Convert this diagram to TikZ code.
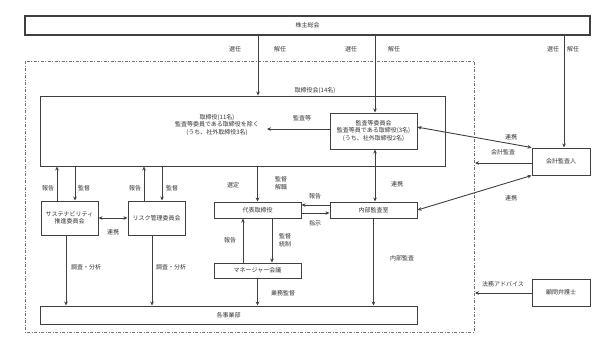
\documentclass[tikz,border=0pt]{standalone}
\usepackage{fontspec}
\setmainfont{Noto Sans CJK JP}
\usetikzlibrary{arrows.meta,calc}
\begin{document}
\begin{tikzpicture}[x=1pt,y=-1pt,
  font=\fontsize{6}{7.5}\selectfont,
  every node/.style={text=black!80, inner sep=0pt},
  box/.style={draw=black!75, line width=1pt, rectangle, align=center},
  lbl/.style={align=center},
  arr/.style={draw=black!75, line width=0.9pt, -{Stealth[length=4pt,width=3.6pt]}},
  darr/.style={draw=black!75, line width=0.9pt, {Stealth[length=4pt,width=3.6pt]}-{Stealth[length=4pt,width=3.6pt]}},
  border/.style={draw=black!55, line width=0.7pt, dash pattern=on 3pt off 1.5pt on 1pt off 1.5pt}
]
\useasboundingbox (0,0) rectangle (610,346);

% group border
\draw[border] (25,61) rectangle (474,332);

% boxes
\node[box, minimum width=565pt, minimum height=19pt, line width=1.2pt] (kabu) at (307.5,25.5) {株主総会};
\node[box, minimum width=405pt, minimum height=70pt, line width=0.9pt] (board) at (242.5,131) {};
\node[lbl, anchor=south] (boardlbl) at (315,94) {取締役会(14名)};
\node[lbl] (dirtext) at (217,125) {取締役(11名)\\監査等委員である取締役を除く\\(うち、社外取締役3名)};
\node[box, minimum width=87pt, minimum height=36pt] (audit) at (373.5,131) {監査等委員会\\監査等員である取締役(3名)\\(うち、社外取締役2名)};
\node[box, minimum width=58pt, minimum height=27pt] (kaikei) at (561,161.5) {会計監査人};
\node[box, minimum width=87pt, minimum height=16pt] (naibu) at (373.5,210) {内部監査室};
\node[box, minimum width=87pt, minimum height=16pt] (daihyo) at (257.5,210) {代表取締役};
\node[box, minimum width=87pt, minimum height=15pt] (mgr) at (257.5,270.5) {マネージャー会議};
\node[box, minimum width=377pt, minimum height=18pt] (jigyo) at (228.5,315) {各事業部};
\node[box, minimum width=57pt, minimum height=34pt] (sus) at (69.5,218) {サステナビリティ\\推進委員会};
\node[box, minimum width=57pt, minimum height=34pt] (risk) at (156.5,218) {リスク管理委員会};
\node[box, minimum width=58pt, minimum height=27pt] (komon) at (561,292.5) {顧問弁護士};

% free ends
\coordinate (dirpt) at (267,129);
\coordinate (edgeA) at (475,163);
\coordinate (edgeB) at (475,293);
\coordinate (xa) at (258,0);
\coordinate (xb) at (375,0);
\coordinate (xc) at (564,0);

% shareholders
\draw[arr] (kabu.south -| xa) -- (board.north -| xa);
\node (l1) at (235,49) {選任};
\node (l2) at (280,49) {解任};
\draw[arr] (kabu.south -| xb) -- (audit.north -| xb);
\node (l3) at (351,49) {選任};
\node (l4) at (394,49) {解任};
\draw[arr] (kabu.south -| xc) -- (kaikei.north -| xc);
\node (l5) at (553,49) {選任};
\node (l6) at (573,49) {解任};

% audit committee
\draw[arr] (audit.west |- dirpt) -- (dirpt);
\node (l7) at (302,118) {監査等};
\draw[darr] (audit.5) -- (kaikei.north west);
\node (l8) at (511,137) {連携};
\draw[arr] (kaikei.west |- edgeA) -- (edgeA);
\node (l9) at (503,152) {会計監査};
\draw[darr] (kaikei.south west) -- (naibu.east);
\node (l10) at (511,198) {連携};
\draw[darr] (audit.south -| xb) -- (naibu.north -| xb);
\node (l11) at (397,184) {連携};

% representative director
\draw[arr] (board.south -| daihyo.north) -- (daihyo.north);
\node (l12) at (233,185) {選定};
\node[lbl] (l13) at (281,183) {監督\\解職};
\draw[arr] ([yshift=5pt]naibu.west) -- ([yshift=5pt]naibu.west -| daihyo.east);
\node (l14) at (315,196) {報告};
\draw[arr] ([yshift=-3pt]daihyo.east) -- ([yshift=-3pt]daihyo.east -| naibu.west);
\node (l15) at (315,223) {指示};
\draw[arr] ([xshift=-14.5pt]mgr.north) -- ([xshift=-14.5pt]daihyo.south);
\node (l16) at (230,240) {報告};
\draw[arr] ([xshift=14.5pt]daihyo.south) -- ([xshift=14.5pt]mgr.north);
\node[lbl] (l17) at (285,240) {監督\\統制};
\draw[arr] (mgr.south) -- (mgr.south |- jigyo.north);
\node (l18) at (283,293) {業務監督};
\draw[arr] (naibu.south) -- (naibu.south |- jigyo.north);
\node (l19) at (402,258) {内部監査};

% committees
\draw[arr] ([xshift=-12.5pt]sus.north) -- ([xshift=-12.5pt]sus.north |- board.south);
\draw[arr] ([xshift=5.5pt]sus.north |- board.south) -- ([xshift=5.5pt]sus.north);
\node (l20) at (48,188) {報告};
\node (l21) at (84,188) {監督};
\draw[arr] ([xshift=-12.5pt]risk.north) -- ([xshift=-12.5pt]risk.north |- board.south);
\draw[arr] ([xshift=5.5pt]risk.north |- board.south) -- ([xshift=5.5pt]risk.north);
\node (l22) at (135,188) {報告};
\node (l23) at (172,188) {監督};
\draw[darr] (sus.east) -- (risk.west);
\node (l24) at (113,232) {連携};
\draw[arr] ([xshift=-3.5pt]sus.south) -- ([xshift=-3.5pt]sus.south |- jigyo.north);
\node (l25) at (86,267) {調査・分析};
\draw[arr] ([xshift=-4.5pt]risk.south) -- ([xshift=-4.5pt]risk.south |- jigyo.north);
\node (l26) at (171,267) {調査・分析};

% legal advisor
\draw[arr] (komon.west |- edgeB) -- (edgeB);
\node (l27) at (503,284) {法務アドバイス};
\end{tikzpicture}
\end{document}
